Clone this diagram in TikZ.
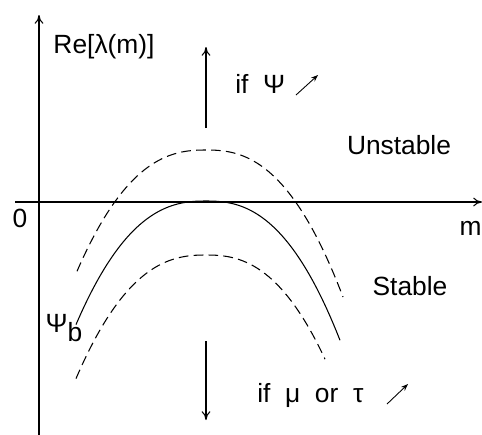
\documentclass[tikz,border=0pt]{standalone}
\usepackage{fontspec}
\setmainfont{Liberation Sans}
\usetikzlibrary{arrows.meta}
\begin{document}
\begin{tikzpicture}[x=0.02cm,y=-0.02cm,
  lbl/.style={inner sep=0pt,font=\fontsize{15}{18}\selectfont},
  axis/.style={line width=0.6pt,-{To[length=5pt,width=5pt]}},
  bigarrow/.style={line width=0.6pt,-{To[length=5pt,width=5pt]}},
  smallarrow/.style={line width=0.5pt,-{Stealth[length=4pt,width=3pt]}},
  curve/.style={line width=0.6pt},
  dcurve/.style={line width=0.6pt,dash pattern=on 5.5pt off 3pt}]
\useasboundingbox (0,0) rectangle (482,434);
% axes
\coordinate (ybot) at (39,440);
\coordinate (ytop) at (39,15);
\coordinate (xleft) at (15,202);
\coordinate (xright) at (482,202);
\draw[axis] (ybot) -- (ytop);
\draw[axis] (xleft) -- (xright);
\node[lbl] (orig) at (20,218) {0};
\node[lbl,anchor=east] (mlab) at (482,228) {m};
\node[lbl] (ylab) at (104,47) {Re[λ(m)]};
% curves
\draw[curve] plot[domain=76:340,samples=120,smooth] (\x,{201+(\x<206?65:68)*pow(abs((\x-206)/100),2.45)});
\draw[dcurve] plot[domain=77:343,samples=120,smooth] (\x,{150+(\x<206?65:68)*pow(abs((\x-206)/100),2.45)});
\draw[dcurve] plot[domain=76:325,samples=120,smooth] (\x,{255+(\x<206?65:68)*pow(abs((\x-206)/100),2.45)});
% vertical arrows
\coordinate (upA) at (206,128);
\coordinate (upB) at (206,47);
\draw[bigarrow] (upA) -- (upB);
\coordinate (dnA) at (206,341);
\coordinate (dnB) at (206,420);
\draw[bigarrow] (dnA) -- (dnB);
% labels
\node[lbl,anchor=west] (ifpsi) at (235,84) {if\ \ Ψ};
\coordinate (sa1) at (296,95);
\coordinate (sb1) at (318,75);
\draw[smallarrow] (sa1) -- (sb1);
\node[lbl] (unst) at (399,145) {Unstable};
\node[lbl] (stab) at (410,286) {Stable};
\node[lbl,anchor=west] (ifmu) at (257,395) {if\ \ μ\ \ or\ \ τ};
\coordinate (sa2) at (387,404);
\coordinate (sb2) at (408,384);
\draw[smallarrow] (sa2) -- (sb2);
\node[lbl] (psib) at (64,328) {Ψ\raisebox{-0.6ex}{b}};
\end{tikzpicture}
\end{document}
